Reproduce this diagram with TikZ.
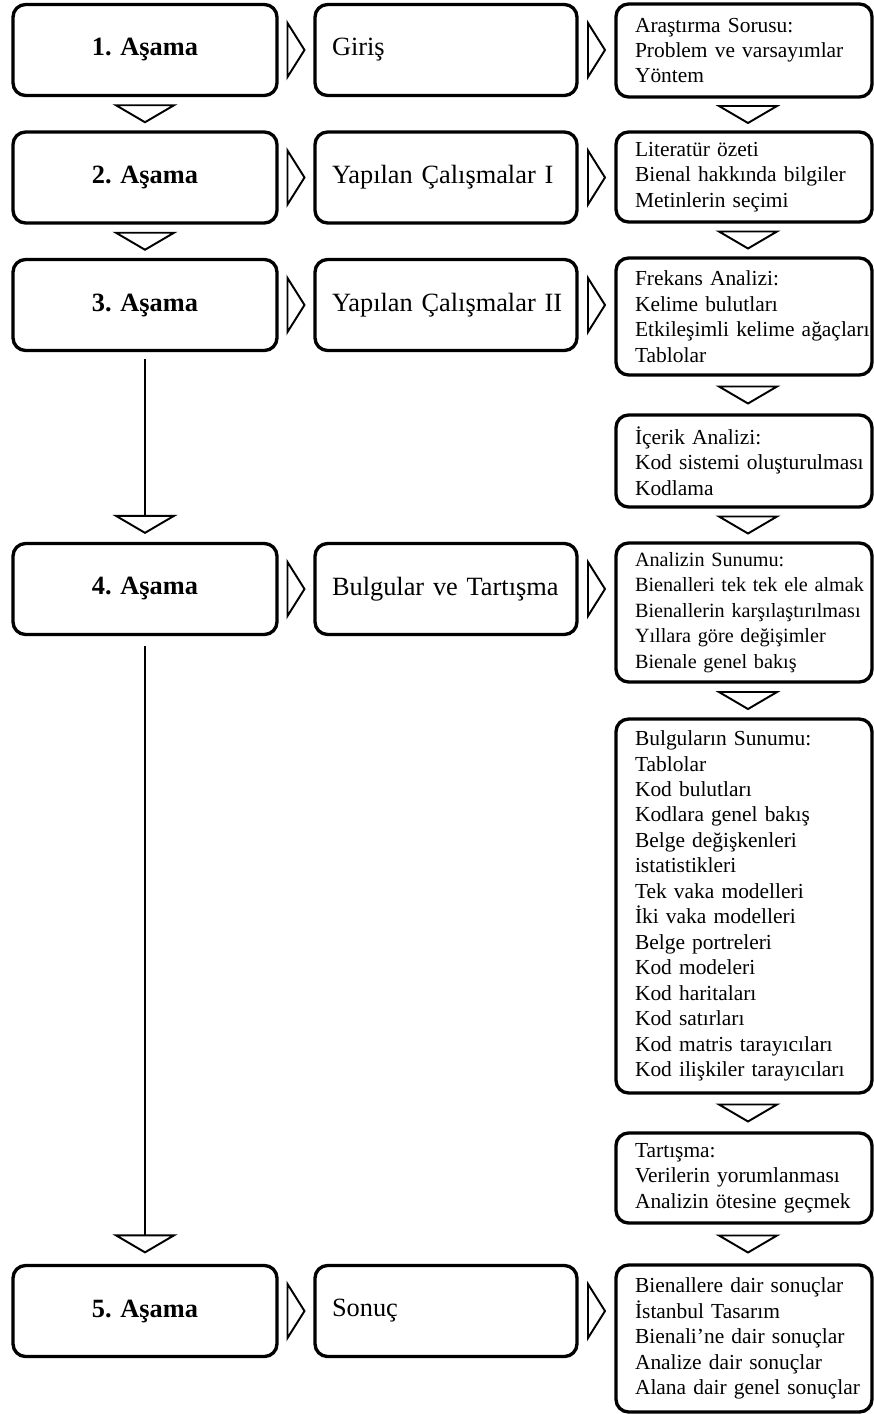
\documentclass[tikz,border=0pt]{standalone}
\usepackage{fontspec}
\setmainfont{Liberation Serif}
\usetikzlibrary{calc}
\def\downtri(#1){\draw[tri] ($(#1)+(-29,-8.5)$) -- ($(#1)+(29,-8.5)$) -- ($(#1)+(0,8.5)$) -- cycle;}
\def\righttri(#1){\draw[tri] ($(#1)+(-8.5,-27)$) -- ($(#1)+(8.5,0)$) -- ($(#1)+(-8.5,27)$) -- cycle;}
\tikzset{
	basebox/.style={draw, line width=1.9pt, rounded corners=0.25cm, minimum height=1.82cm},
	stagebox/.style={basebox, minimum width=5.28cm, font=\bfseries\fontsize{15}{18}\selectfont},
	partbox/.style={basebox, minimum width=5.24cm, text width=4.56cm, inner xsep=0.34cm, align=left, font=\fontsize{15}{18}\selectfont, execute at begin node={\rightskip=0pt plus 1fil minus 40pt}},
	detailbox/.style={basebox, minimum width=5.12cm, text width=5.12cm, inner xsep=0pt, align=left, font=\fontsize{12.2}{14.5}\selectfont, execute at begin node={\leftskip=0.38cm\rightskip=0pt plus 1fil minus 40pt}},
	tri/.style={line width=1.1pt, line join=miter},
	stem/.style={line width=0.6pt},
}
\begin{document}
\begin{tikzpicture}[x=0.02cm, y=-0.02cm]
			%%%%% START %%%%%
			\useasboundingbox (0,0) rectangle (874,1414);
			
			\node[stagebox] (l1) at (145,50) {1. Aşama};
			\node[stagebox] (l2) at (145,177.5) {2. Aşama};
			\node[stagebox] (l3) at (145,305) {3. Aşama};
			\node[stagebox] (l4) at (145,589) {4. Aşama};
			\node[stagebox] (l5) at (145,1311) {5. Aşama};
			
			\node[partbox] (m1) at (446,50) {Giriş};
			\node[partbox] (m2) at (446,177.5) {Yapılan Çalışmalar I};
			\node[partbox] (m3) at (446,305) {Yapılan Çalışmalar II};
			\node[partbox] (m4) at (446,589) {Bulgular ve Tartışma};
			\node[partbox] (m5) at (446,1311) {Sonuç};
			
			\node[detailbox, minimum height=1.86cm] (r1) at (744,50.5) {Araştırma Sorusu:\\Problem ve varsayımlar\\Yöntem};
			\node[detailbox, minimum height=1.8cm] (r2) at (744,177) {Literatür özeti\\Bienal hakkında bilgiler\\Metinlerin seçimi};
			\node[detailbox, minimum height=2.34cm] (r3) at (744,316.5) {Frekans Analizi:\\Kelime bulutları\\Etkileşimli kelime ağaçları\\Tablolar};
			\node[detailbox, minimum height=1.84cm] (r4) at (744,461) {İçerik Analizi:\\Kod sistemi oluşturulması\\Kodlama};
			\node[detailbox, minimum height=2.78cm, font=\fontsize{11.5}{14.5}\selectfont] (r5) at (744,612.5) {Analizin Sunumu:\\Bienalleri tek tek ele almak\\Bienallerin karşılaştırılması\\Yıllara göre değişimler\\Bienale genel bakış};
			\node[detailbox, minimum height=7.48cm] (r6) at (744,906) {Bulguların Sunumu:\\Tablolar\\Kod bulutları\\Kodlara genel bakış\\Belge değişkenleri\\istatistikleri\\Tek vaka modelleri\\İki vaka modelleri\\Belge portreleri\\Kod modeleri\\Kod haritaları\\Kod satırları\\Kod matris tarayıcıları\\Kod ilişkiler tarayıcıları};
			\node[detailbox, minimum height=1.8cm] (r7) at (744,1178) {Tartışma:\\Verilerin yorumlanması\\Analizin ötesine geçmek};
			\node[detailbox, minimum height=2.94cm] (r8) at (744,1338.5) {Bienallere dair sonuçlar\\İstanbul Tasarım\\Bienali’ne dair sonuçlar\\Analize dair sonuçlar\\Alana dair genel sonuçlar};
			
			% stage column
			\coordinate (ld1) at ($(l1.south)!.5!(l2.north)$);
			\coordinate (ld2) at ($(l2.south)!.5!(l3.north)$);
			\coordinate (ld3) at ($(l4.north)+(0,-17.5)$);
			\coordinate (ld4) at ($(l5.north)+(0,-20)$);
			\downtri(ld1);
			\downtri(ld2);
			\downtri(ld3);
			\downtri(ld4);
			\draw[stem] ($(l3.south)+(0,7)$) -- ($(ld3)+(0,-8.5)$);
			\draw[stem] ($(l4.south)+(0,10)$) -- ($(ld4)+(0,-8.5)$);
			
			% detail column
			\coordinate (rd1) at ($(r1.south)!.5!(r2.north)+(4,0)$);
			\coordinate (rd2) at ($(r2.south)!.5!(r3.north)+(4,0)$);
			\coordinate (rd3) at ($(r3.south)!.5!(r4.north)+(4,0)$);
			\coordinate (rd4) at ($(r4.south)!.5!(r5.north)+(4,0)$);
			\coordinate (rd5) at ($(r5.south)!.5!(r6.north)+(4,0)$);
			\coordinate (rd6) at ($(r6.south)!.5!(r7.north)+(4,0)$);
			\coordinate (rd7) at ($(r7.south)!.5!(r8.north)+(4,0)$);
			\downtri(rd1);
			\downtri(rd2);
			\downtri(rd3);
			\downtri(rd4);
			\downtri(rd5);
			\downtri(rd6);
			\downtri(rd7);
			
			% across
			\coordinate (lm1) at ($(l1.east)!.5!(m1.west)$);
			\coordinate (lm2) at ($(l2.east)!.5!(m2.west)$);
			\coordinate (lm3) at ($(l3.east)!.5!(m3.west)$);
			\coordinate (lm4) at ($(l4.east)!.5!(m4.west)$);
			\coordinate (lm5) at ($(l5.east)!.5!(m5.west)$);
			\righttri(lm1);
			\righttri(lm2);
			\righttri(lm3);
			\righttri(lm4);
			\righttri(lm5);
			
			\coordinate (mr1) at ($(m1.east)!.5!(m1.east -| r1.west)$);
			\coordinate (mr2) at ($(m2.east)!.5!(m2.east -| r2.west)$);
			\coordinate (mr3) at ($(m3.east)!.5!(m3.east -| r3.west)$);
			\coordinate (mr4) at ($(m4.east)!.5!(m4.east -| r5.west)$);
			\coordinate (mr5) at ($(m5.east)!.5!(m5.east -| r8.west)$);
			\righttri(mr1);
			\righttri(mr2);
			\righttri(mr3);
			\righttri(mr4);
			\righttri(mr5);
			
			%%%%% END %%%%%
\end{tikzpicture}
\end{document}
